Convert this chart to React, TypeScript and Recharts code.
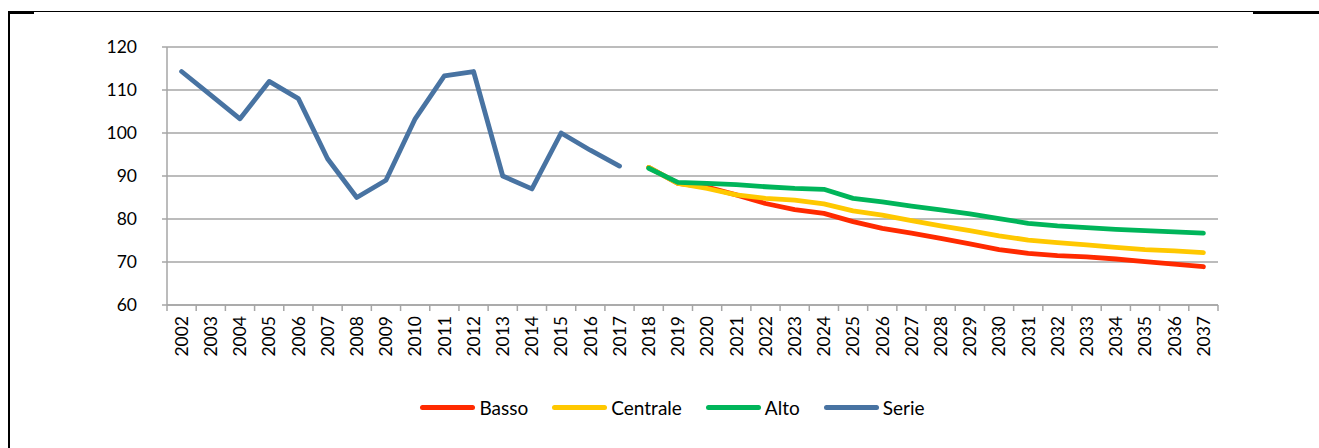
import React from "react";
import { LineChart, Line, XAxis, YAxis, CartesianGrid, Legend } from "recharts";

// categories
const years = [
  "2002", "2003", "2004", "2005", "2006", "2007", "2008", "2009", "2010", "2011", "2012", "2013",
  "2014", "2015", "2016", "2017", "2018", "2019", "2020", "2021", "2022", "2023", "2024", "2025",
  "2026", "2027", "2028", "2029", "2030", "2031", "2032", "2033", "2034", "2035", "2036", "2037",
];

// historical series 2002-2017
const serie = [114.3, 108.8, 103.3, 112, 108, 94, 85, 89, 103.3, 113.3, 114.3, 90, 87, 100, 96, 92.3];

// scenarios 2018-2037
const basso = [92, 88.3, 87.4, 85.6, 83.6, 82.2, 81.3, 79.4, 77.8, 76.7, 75.5, 74.2, 72.9, 72.0, 71.5, 71.2, 70.7, 70.1, 69.5, 68.9];
const centrale = [92, 88.3, 87.1, 85.6, 84.8, 84.4, 83.5, 81.9, 80.9, 79.6, 78.4, 77.3, 76.1, 75.1, 74.5, 74.0, 73.4, 72.9, 72.6, 72.2];
const alto = [91.8, 88.5, 88.3, 88.0, 87.5, 87.1, 86.9, 84.8, 84.0, 83.0, 82.1, 81.2, 80.1, 79.0, 78.4, 78.0, 77.6, 77.3, 77.0, 76.7];

const yTicks = [60, 70, 80, 90, 100, 110, 120];

const series = [
  { key: "basso", name: "Basso", color: "#ff2a00" },
  { key: "centrale", name: "Centrale", color: "#ffc800" },
  { key: "alto", name: "Alto", color: "#00b55a" },
  { key: "serie", name: "Serie", color: "#4873a2" },
];

const histLen = serie.length;
const data = years.map((name, i) => ({
  name,
  serie: i < histLen ? serie[i] : null,
  basso: i >= histLen ? basso[i - histLen] : null,
  centrale: i >= histLen ? centrale[i - histLen] : null,
  alto: i >= histLen ? alto[i - histLen] : null,
}));

const W = 1319;
const H = 448;
const M = { top: 47, right: 101, left: 107, bottom: 26 };
const Y_W = 60;
const plotW = W - M.left - Y_W - M.right;
const step = plotW / years.length;
const grey = "#a6a6a6";
const font = "Lato, 'Open Sans', sans-serif";

const XTick = (props: any) => {
  const { x, y, payload, index } = props;
  const last = index === years.length - 1;
  return (
    <g>
      <line x1={x - step / 2} y1={y} x2={x - step / 2} y2={y + 6} stroke={grey} strokeWidth={1.5} />
      {last && <line x1={x + step / 2} y1={y} x2={x + step / 2} y2={y + 6} stroke={grey} strokeWidth={1.5} />}
      <text
        transform={`translate(${x},${y + 11}) rotate(-90)`}
        textAnchor="end"
        dy="0.36em"
        fontSize={17.5}
        fontFamily={font}
        fill="#000"
      >
        {payload.value}
      </text>
    </g>
  );
};

const LegendContent = () => (
  <div
    style={{
      display: "flex",
      justifyContent: "center",
      alignItems: "center",
      height: 30,
      paddingLeft: 44,
      fontFamily: font,
      fontSize: 19,
      color: "#000",
    }}
  >
    {series.map((s) => (
      <div key={s.key} style={{ display: "flex", alignItems: "center", marginRight: 24 }}>
        <span style={{ display: "inline-block", width: 55, height: 5, borderRadius: 3, background: s.color }} />
        <span style={{ marginLeft: 4 }}>{s.name}</span>
      </div>
    ))}
  </div>
);

export default function App() {
  return (
    <div style={{ position: "absolute", left: 0, top: 0, width: W, height: H, background: "#fff", overflow: "hidden" }}>
      <div
        style={{
          position: "absolute",
          left: 8,
          top: 11,
          width: W,
          height: H,
          borderLeft: "2px solid #000",
          borderTop: "1px solid #000",
          boxSizing: "border-box",
        }}
      />
      <div style={{ position: "absolute", left: 8, top: 11, width: 26, height: 3, background: "#000" }} />
      <div style={{ position: "absolute", left: 1253, top: 11, width: 66, height: 3, background: "#000" }} />
      <div style={{ position: "absolute", left: 0, top: 0 }}>
        <LineChart width={W} height={H} data={data} margin={M}>
          <CartesianGrid vertical={false} stroke={grey} strokeWidth={1.5} />
          <XAxis
            dataKey="name"
            interval={0}
            height={87}
            padding={{ left: step / 2, right: step / 2 }}
            axisLine={{ stroke: grey, strokeWidth: 1.5 }}
            tickLine={false}
            tickSize={0}
            tickMargin={0}
            tick={<XTick />}
          />
          <YAxis
            domain={[60, 120]}
            ticks={yTicks}
            width={Y_W}
            axisLine={{ stroke: grey, strokeWidth: 1.5 }}
            tickLine={{ stroke: grey, strokeWidth: 1.5 }}
            tickSize={5}
            tickMargin={25}
            tick={{ fontSize: 17.5, fontFamily: font, fill: "#000" }}
          />
          <Legend verticalAlign="bottom" height={30} content={<LegendContent />} />
          {series.map((s) => (
            <Line
              key={s.key}
              dataKey={s.key}
              name={s.name}
              stroke={s.color}
              strokeWidth={4.8}
              strokeLinecap="round"
              strokeLinejoin="round"
              dot={false}
              activeDot={false}
              connectNulls={false}
              isAnimationActive={false}
            />
          ))}
        </LineChart>
      </div>
    </div>
  );
}
